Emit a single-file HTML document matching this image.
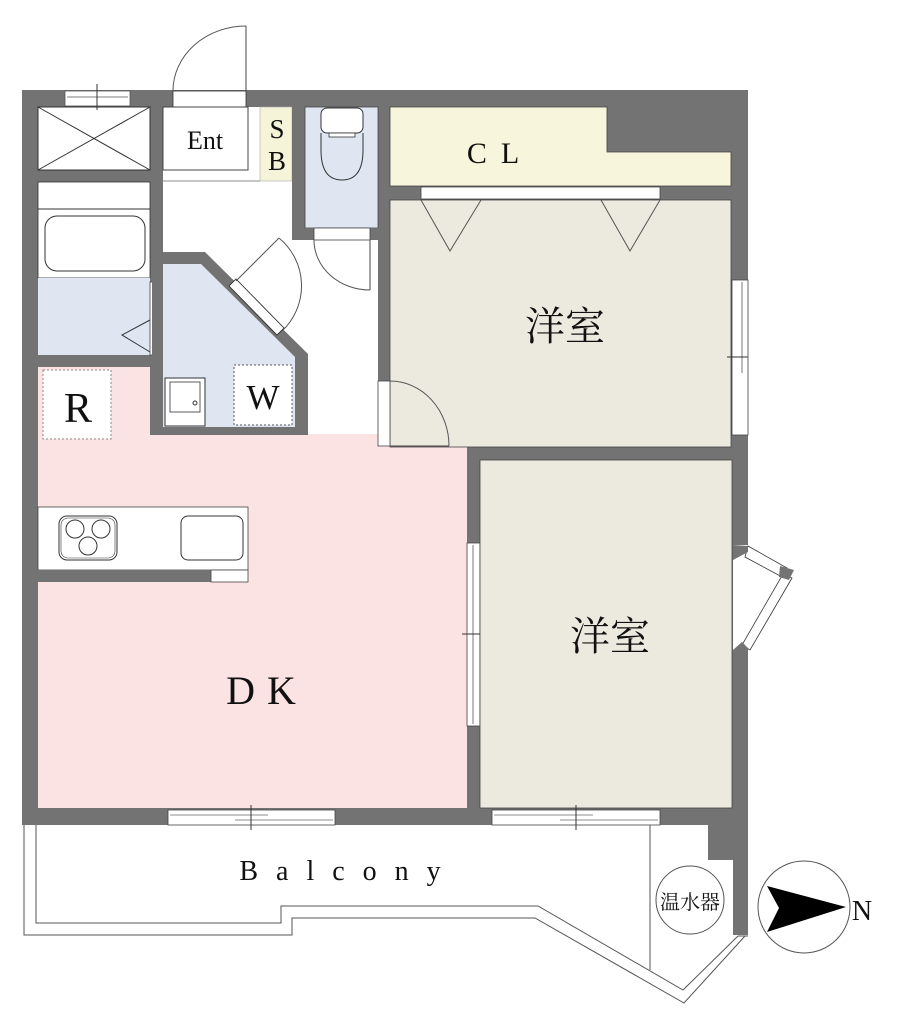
<!DOCTYPE html>
<html><head><meta charset="utf-8"><style>
html,body{margin:0;padding:0;background:#fff}
svg{display:block}
text{font-family:"Liberation Serif","Noto Serif CJK SC",serif;fill:#111}
</style></head><body>
<svg width="900" height="1024" viewBox="0 0 900 1024" xmlns="http://www.w3.org/2000/svg">
<rect x="22" y="90" width="726" height="735" fill="#737373"/>
<rect x="708" y="825" width="40" height="35" fill="#737373"/>
<rect x="733" y="825" width="15" height="110" fill="#737373"/>
<rect x="733" y="545" width="16" height="105" fill="#fff"/>

<rect x="38" y="107" width="112" height="63" fill="#fff" stroke="#333" stroke-width="1"/>
<line x1="38" y1="107" x2="150" y2="170" stroke="#333"/><line x1="150" y1="107" x2="38" y2="170" stroke="#333"/>
<rect x="65" y="91" width="65" height="15" fill="#fff" stroke="#555" stroke-width="0.8"/>
<line x1="67" y1="97" x2="128" y2="97" stroke="#555" stroke-width="0.8"/>
<line x1="97" y1="84" x2="97" y2="110" stroke="#333"/>
<rect x="38" y="182" width="112" height="96" fill="#fff" stroke="#333" stroke-width="0.8"/>
<line x1="38" y1="209" x2="150" y2="209" stroke="#333"/>
<rect x="45" y="216" width="100" height="55" rx="12" fill="#fff" stroke="#333"/>
<rect x="38" y="278" width="112" height="77" fill="#dfe6f2"/>
<polyline points="150,320 122,335 150,352" fill="none" stroke="#333"/>
<rect x="150" y="282" width="13" height="73" fill="#fff" stroke="#444" stroke-width="0.8"/>

<rect x="163" y="107" width="129" height="146" fill="#fff"/>
<rect x="163" y="240" width="215" height="195" fill="#fff"/>
<rect x="305" y="230" width="73" height="20" fill="#fff"/>
<rect x="173" y="91" width="73" height="16" fill="#fff" stroke="#333" stroke-width="0.8"/>
<line x1="246" y1="26" x2="246" y2="91" stroke="#444"/>
<path d="M173,91 A73,65 0 0 1 246,26" fill="none" stroke="#555"/>
<rect x="163" y="107" width="85" height="63" fill="#fff" stroke="#444" stroke-width="1"/>
<line x1="163" y1="181" x2="260" y2="181" stroke="#666" stroke-width="0.8"/>
<rect x="260" y="107" width="32" height="74" fill="#f6f4d8" stroke="#aaa" stroke-width="0.6"/>
<text x="205" y="149" font-size="26" text-anchor="middle">Ent</text>
<text x="277" y="138" font-size="27" text-anchor="middle">S</text>
<text x="277" y="170" font-size="27" text-anchor="middle">B</text>

<rect x="292" y="90" width="13" height="150" fill="#737373"/>
<rect x="305" y="107" width="73" height="121" fill="#dfe6f2" stroke="#444" stroke-width="0.8"/>
<rect x="305" y="228" width="85" height="12" fill="#737373"/>
<rect x="314" y="228" width="56" height="12" fill="#fff" stroke="#444" stroke-width="0.8"/>
<rect x="321" y="108" width="42" height="25" rx="6" fill="#fff" stroke="#333"/>
<rect x="329" y="133" width="26" height="4" fill="#fff" stroke="#333" stroke-width="0.8"/>
<path d="M321,133 L321,150 Q321,180 342,180 Q363,180 363,150 L363,133" fill="none" stroke="#333"/>
<line x1="370" y1="240" x2="370" y2="290" stroke="#444"/>
<path d="M314,240 A56,50 0 0 0 370,290" fill="none" stroke="#555"/>

<polygon points="152,252 205,252 308,354 308,440 152,440" fill="#737373"/>
<polygon points="163,264 201,264 295,357 295,427 163,427" fill="#dfe6f2"/>
<polygon points="229,286 236,279 284,328 277,335" fill="#fff" stroke="#222" stroke-width="0.8"/>
<line x1="236" y1="281" x2="279" y2="238" stroke="#555"/>
<path d="M279,238 A62,62 0 0 1 282,331" fill="none" stroke="#555"/>
<rect x="165" y="378" width="40" height="48" fill="#fff" stroke="#333"/>
<rect x="170" y="382" width="30" height="30" fill="#fff" stroke="#333" stroke-width="0.8"/>
<circle cx="195" cy="403" r="2" fill="none" stroke="#333"/>
<rect x="234" y="365" width="58" height="60" fill="#fff" stroke="#555" stroke-width="1" stroke-dasharray="2,2"/>
<text x="263" y="409" font-size="35" text-anchor="middle">W</text>

<rect x="38" y="367" width="112" height="73" fill="#fbe3e4"/>
<rect x="38" y="435" width="429" height="373" fill="#fbe3e4"/>
<rect x="308" y="434" width="70" height="10" fill="#fbe3e4"/>
<rect x="43" y="370" width="68" height="69" fill="#fff" stroke="#888" stroke-dasharray="2,2"/>
<text x="78" y="422" font-size="42" text-anchor="middle">R</text>
<rect x="38" y="507" width="210" height="63" fill="#fff" stroke="#444" stroke-width="0.8"/>
<rect x="38" y="570" width="173" height="12" fill="#737373"/>
<rect x="211" y="570" width="37" height="12" fill="#fff" stroke="#444" stroke-width="0.8"/>
<rect x="59" y="516" width="58" height="44" rx="8" fill="#fff" stroke="#333"/>
<rect x="61" y="518" width="54" height="40" rx="7" fill="none" stroke="#333" stroke-width="0.6"/>
<circle cx="75" cy="529" r="9" fill="none" stroke="#333"/>
<circle cx="101" cy="529" r="9" fill="none" stroke="#333"/>
<circle cx="88" cy="546" r="9" fill="none" stroke="#333"/>
<rect x="181" y="516" width="62" height="44" rx="7" fill="#fff" stroke="#333"/>
<text x="267" y="704" font-size="40" text-anchor="middle" letter-spacing="12">DK</text>

<rect x="467" y="447" width="13" height="361" fill="#737373"/>
<rect x="467" y="543" width="13" height="183" fill="#fff" stroke="#444" stroke-width="0.8"/>
<line x1="473" y1="545" x2="473" y2="724" stroke="#555" stroke-width="0.8"/>
<line x1="462" y1="634" x2="480" y2="634" stroke="#333"/>

<polygon points="390,107 607,107 607,152 731,152 731,186 390,186" fill="#f7f5dc" stroke="#444" stroke-width="0.8"/>
<text x="500" y="163" font-size="30" text-anchor="middle" letter-spacing="14">CL</text>
<rect x="421" y="187" width="239" height="12" fill="#fff" stroke="#444" stroke-width="0.8"/>
<rect x="390" y="200" width="341" height="247" fill="#ece9df" stroke="#444" stroke-width="0.8"/>
<polyline points="421,200 450,251 481,200" fill="none" stroke="#555"/>
<polyline points="601,200 630,251 660,200" fill="none" stroke="#555"/>
<rect x="732" y="280" width="16" height="155" fill="#fff" stroke="#444" stroke-width="0.8"/>
<line x1="742" y1="282" x2="742" y2="373" stroke="#555" stroke-width="0.8"/>
<line x1="727" y1="357" x2="748" y2="357" stroke="#333"/>
<rect x="378" y="381" width="12" height="65" fill="#fff" stroke="#444" stroke-width="0.8"/>
<line x1="390" y1="446" x2="449" y2="446" stroke="#444"/>
<path d="M390,381 A59,65 0 0 1 449,446" fill="none" stroke="#555"/>
<text x="565" y="340" font-size="40" text-anchor="middle">洋室</text>

<rect x="480" y="460" width="252" height="348" fill="#ece9df" stroke="#444" stroke-width="0.8"/>
<text x="610" y="650" font-size="40" text-anchor="middle">洋室</text>
<polygon points="733,545 748,545 752,546 792,568 785,578 748,560 733,650" fill="#fff"/>
<polygon points="748,546 787,568 782,577 745,557" fill="#fff" stroke="#333" stroke-width="0.8"/>
<polygon points="783,574 792,578 750,650 742,645" fill="#fff" stroke="#333" stroke-width="0.8"/>
<polygon points="780,566 794,570 789,580 779,577" fill="#737373"/>
<polygon points="733,545 748,546 748,552 733,560" fill="#737373"/>
<polygon points="733,650 742,642 748,648 748,660 733,660" fill="#737373"/>

<rect x="168" y="810" width="167" height="15" fill="#fff" stroke="#444" stroke-width="0.8"/>
<line x1="170" y1="815" x2="268" y2="815" stroke="#666" stroke-width="0.8"/>
<line x1="235" y1="820" x2="333" y2="820" stroke="#666" stroke-width="0.8"/>
<line x1="251" y1="805" x2="251" y2="830" stroke="#333"/>
<rect x="492" y="810" width="168" height="15" fill="#fff" stroke="#444" stroke-width="0.8"/>
<line x1="494" y1="815" x2="593" y2="815" stroke="#666" stroke-width="0.8"/>
<line x1="560" y1="820" x2="658" y2="820" stroke="#666" stroke-width="0.8"/>
<line x1="576" y1="805" x2="576" y2="830" stroke="#333"/>

<polyline points="24,825 24,935 292,935 292,918 535,918 684,1003 745,936" fill="none" stroke="#555" stroke-width="1"/>
<polyline points="36,825 36,923 281,923 281,906 538,906 683,990 738,936" fill="none" stroke="#555" stroke-width="1"/>
<line x1="650" y1="825" x2="650" y2="970" stroke="#555"/>
<line x1="738" y1="936" x2="748" y2="936" stroke="#555"/>
<text x="349" y="880" font-size="28" text-anchor="middle" letter-spacing="18">Balcony</text>
<circle cx="690" cy="900" r="34" fill="#fff" stroke="#555"/>
<text x="690" y="909" font-size="20" text-anchor="middle">温水器</text>
<circle cx="804" cy="907" r="46" fill="#fff" stroke="#555"/>
<polygon points="767,886 846,907 767,932 779,908" fill="#000"/>
<text x="862" y="920" font-size="28" text-anchor="middle">N</text>
</svg>
</body></html>
